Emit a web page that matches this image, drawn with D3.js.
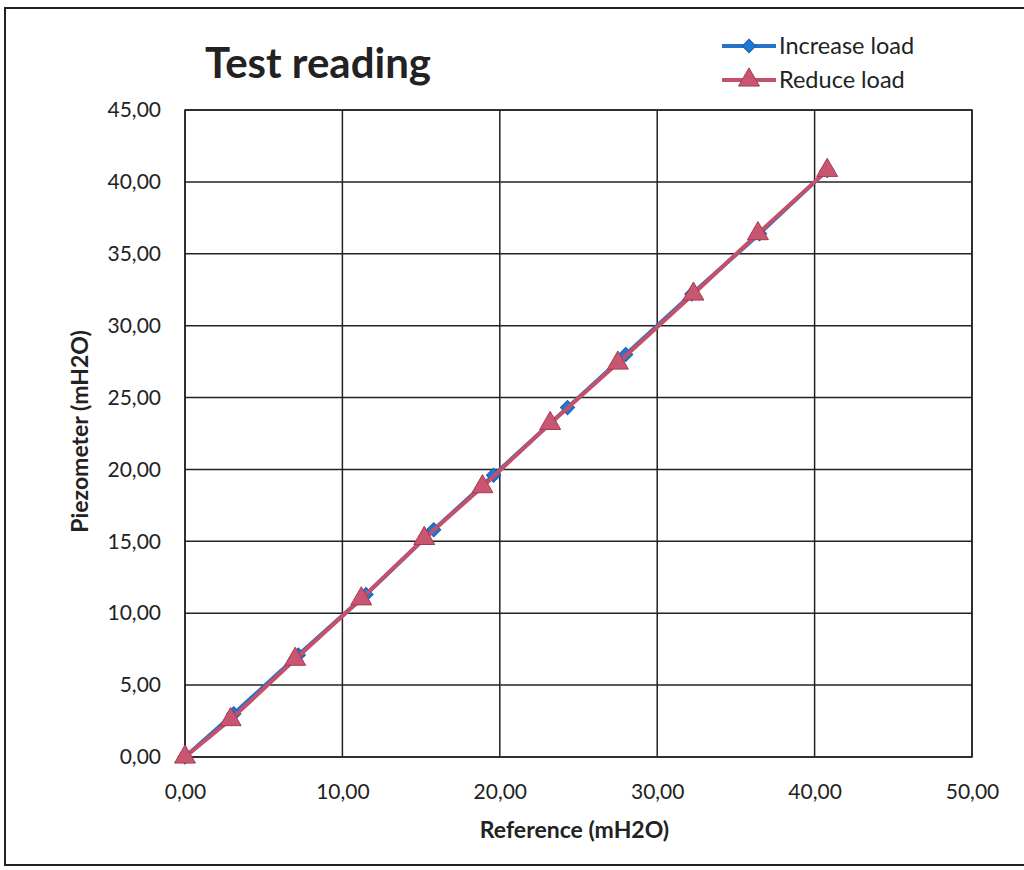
<!DOCTYPE html>
<html>
<head>
<meta charset="utf-8">
<script src="https://cdn.jsdelivr.net/npm/d3@7"></script>
<style>
  html, body { margin: 0; padding: 0; background: #fff; }
  svg { display: block; }
</style>
</head>
<body>
<svg id="chart" width="1024" height="870"></svg>
<script>
const title = "Test reading";
const xLabel = "Reference (mH2O)";
const yLabel = "Piezometer (mH2O)";
const seriesNames = ["Increase load", "Reduce load"];
const increaseX = [0, 3.1, 7.2, 11.5, 15.8, 19.6, 24.3, 28.0, 32.2, 36.5, 40.8];
const increaseY = [0, 3.0, 7.1, 11.3, 15.8, 19.6, 24.3, 28.0, 32.2, 36.4, 40.8];
const reduceX = [0, 2.9, 7.0, 11.2, 15.2, 18.9, 23.2, 27.5, 32.3, 36.4, 40.8];
const reduceY = [0, 2.6, 6.8, 11.0, 15.2, 18.8, 23.2, 27.4, 32.2, 36.4, 40.8];
const xTicks = [0, 10, 20, 30, 40, 50];
const yTicks = [0, 5, 10, 15, 20, 25, 30, 35, 40, 45];

(function () {
const svg = d3.select("#chart");
const font = "Lato, 'Open Sans', sans-serif";
const fmt = v => d3.format(".2f")(v).replace(".", ",");

// outer frame
svg.append("rect").attr("x", 5).attr("y", 8).attr("width", 1030).attr("height", 857)
  .attr("fill", "none").attr("stroke", "#222").attr("stroke-width", 2);

const pL = 185, pR = 972, pT = 110, pB = 757;
const x = d3.scaleLinear().domain([0, 50]).range([pL, pR]);
const y = d3.scaleLinear().domain([0, 45]).range([pB, pT]);

// grid
const g = svg.append("g");
g.selectAll(".vg").data(xTicks).join("line")
  .attr("x1", d => x(d)).attr("x2", d => x(d)).attr("y1", pT).attr("y2", pB)
  .attr("stroke", "#222").attr("stroke-width", 1.5);
g.selectAll(".hg").data(yTicks).join("line")
  .attr("y1", d => y(d)).attr("y2", d => y(d)).attr("x1", pL).attr("x2", pR)
  .attr("stroke", "#222").attr("stroke-width", 1.5);

// axes via d3
const xAxis = svg.append("g").attr("transform", `translate(0,${pB})`)
  .call(d3.axisBottom(x).tickValues(xTicks).tickFormat(fmt).tickSize(0).tickPadding(27));
const yAxis = svg.append("g").attr("transform", `translate(${pL},0)`)
  .call(d3.axisLeft(y).tickValues(yTicks).tickFormat(fmt).tickSize(0).tickPadding(24));
[xAxis, yAxis].forEach(a => {
  a.select(".domain").remove();
  a.selectAll("text").attr("font-family", font).attr("font-size", 21).attr("fill", "#222");
});

// plot border
svg.append("rect").attr("x", pL).attr("y", pT).attr("width", pR - pL).attr("height", pB - pT)
  .attr("fill", "none").attr("stroke", "#222").attr("stroke-width", 1.5);

const blue = "#2672c9", red = "#c4506a";
const line = d3.line().x(d => x(d[0])).y(d => y(d[1]));
const inc = increaseX.map((v, i) => [v, increaseY[i]]);
const red_ = reduceX.map((v, i) => [v, reduceY[i]]);

svg.append("path").datum(inc).attr("d", line).attr("fill", "none")
  .attr("stroke", blue).attr("stroke-width", 4);
svg.selectAll(".dia").data(inc).join("path")
  .attr("d", d3.symbol(d3.symbolSquare, 100)())
  .attr("transform", d => `translate(${x(d[0])},${y(d[1])}) rotate(45)`)
  .attr("fill", "#1e78d6").attr("stroke", "#1a5fa8").attr("stroke-width", 1);

svg.append("path").datum(red_).attr("d", line).attr("fill", "none")
  .attr("stroke", red).attr("stroke-width", 4);
svg.selectAll(".tri").data(red_).join("path")
  .attr("d", d3.symbol(d3.symbolTriangle, 190)())
  .attr("transform", d => `translate(${x(d[0])},${y(d[1])})`)
  .attr("fill", "#c85670").attr("stroke", "#a83a52").attr("stroke-width", 1);

// title
svg.append("text").attr("x", 205).attr("y", 78).text(title)
  .attr("font-family", font).attr("font-weight", "bold").attr("font-size", 42).attr("fill", "#222");

// axis titles
svg.append("text").attr("x", (pL + pR) / 2 - 4).attr("y", 838).attr("text-anchor", "middle")
  .text(xLabel).attr("font-family", font).attr("font-weight", "bold").attr("font-size", 23).attr("fill", "#222");
svg.append("text").attr("transform", `translate(88,${(pT + pB) / 2 - 2}) rotate(-90)`)
  .attr("text-anchor", "middle").text(yLabel)
  .attr("font-family", font).attr("font-weight", "bold").attr("font-size", 23).attr("fill", "#222");

// legend
const leg = svg.append("g");
const legItems = [
  { name: seriesNames[0], color: blue, sym: d3.symbolSquare, size: 90, rot: 45, fill: "#1e78d6", stroke: "#1a5fa8", y: 46 },
  { name: seriesNames[1], color: red, sym: d3.symbolTriangle, size: 190, rot: 0, fill: "#c85670", stroke: "#a83a52", y: 80 }
];
legItems.forEach(it => {
  leg.append("line").attr("x1", 722).attr("x2", 776).attr("y1", it.y).attr("y2", it.y)
    .attr("stroke", it.color).attr("stroke-width", 4);
  leg.append("path").attr("d", d3.symbol(it.sym, it.size)())
    .attr("transform", `translate(749,${it.y}) rotate(${it.rot})`)
    .attr("fill", it.fill).attr("stroke", it.stroke);
  leg.append("text").attr("x", 779).attr("y", it.y + 8).text(it.name)
    .attr("font-family", font).attr("font-size", 23.5).attr("fill", "#222");
});
})();
</script>
</body>
</html>
